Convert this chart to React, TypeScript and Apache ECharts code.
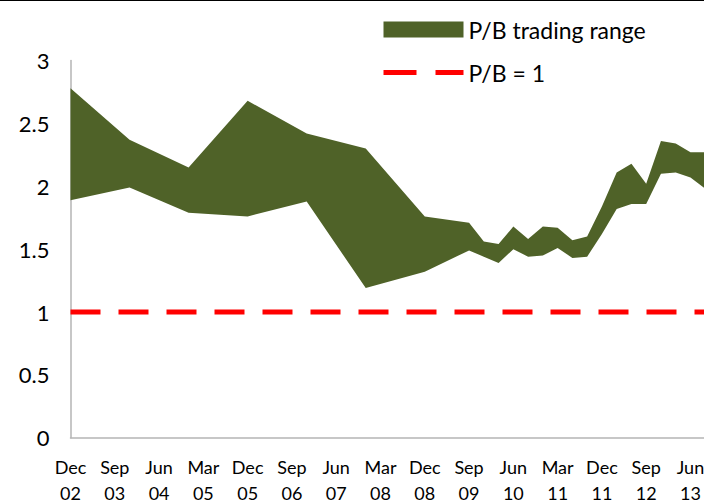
import React, { useEffect, useRef } from "react";
import * as echarts from "echarts";

// Observation dates (quarter ends), band bounds of the P/B trading range
const dates = [
  "2002-12", "2003-12", "2004-12", "2005-12", "2006-12", "2007-12", "2008-12",
  "2009-09", "2009-12", "2010-03", "2010-06", "2010-09", "2010-12", "2011-03",
  "2011-06", "2011-09", "2011-12", "2012-03", "2012-06", "2012-09", "2012-12",
  "2013-03", "2013-06", "2013-09",
];
const upperPB = [
  2.78, 2.37, 2.15, 2.68, 2.42, 2.30, 1.76,
  1.71, 1.56, 1.54, 1.68, 1.58, 1.68, 1.67,
  1.57, 1.60, 1.84, 2.11, 2.18, 2.02, 2.36,
  2.34, 2.27, 2.27,
];
const lowerPB = [
  1.89, 1.99, 1.79, 1.76, 1.88, 1.19, 1.32,
  1.49, 1.44, 1.39, 1.50, 1.44, 1.45, 1.51,
  1.43, 1.44, 1.62, 1.82, 1.86, 1.86, 2.10,
  2.11, 2.07, 1.98,
];
const xTickLabels = [
  "Dec\n02", "Sep\n03", "Jun\n04", "Mar\n05", "Dec\n05", "Sep\n06", "Jun\n07",
  "Mar\n08", "Dec\n08", "Sep\n09", "Jun\n10", "Mar\n11", "Dec\n11", "Sep\n12",
  "Jun\n13",
];
const referenceLevel = 1;

const FONT = "Lato";
const GREEN = "#4F6228";

// quarter index relative to Dec 2002
function quarterIndex(d: string): number {
  const [y, m] = d.split("-").map(Number);
  return (y - 2002) * 4 + (m - 12) / 3;
}

export default function App() {
  const ref = useRef<HTMLDivElement>(null);

  useEffect(() => {
    if (!ref.current) return;
    const chart = echarts.init(ref.current, undefined, { renderer: "svg" });
    const xs = dates.map(quarterIndex);
    const xMin = 0;
    const xMax = 44;
    const bandData = xs.map((x, i) => [x, upperPB[i], lowerPB[i]]);

    chart.setOption({
      animation: false,
      grid: { left: 70.5, right: -16, top: 60.6, bottom: 66.3, outerBoundsMode: "none", containLabel: false },
      graphic: [
        { type: "rect", shape: { x: 0, y: 0, width: 704, height: 1 }, style: { fill: "#000" } },
      ],
      legend: {
        orient: "vertical",
        left: 381,
        top: 18,
        padding: 0,
        itemWidth: 80,
        itemHeight: 16,
        itemGap: 20,
        textStyle: { fontFamily: FONT, fontSize: 23, color: "#000", lineHeight: 16 },
        data: [
          { name: "P/B trading range", icon: "rect" },
          {
            name: "P/B = 1",
            itemStyle: { color: "rgba(0,0,0,0)", borderWidth: 0, opacity: 0 },
            lineStyle: { type: [33, 19], width: 5, color: "#ff0000" },
          },
        ],
      },
      xAxis: {
        type: "value",
        min: xMin,
        max: xMax,
        interval: 3,
        axisLine: { show: true, lineStyle: { color: "#b5b5b5", width: 1.5 } },
        axisTick: { show: false },
        splitLine: { show: false },
        axisLabel: {
          fontFamily: FONT,
          fontSize: 18,
          lineHeight: 26,
          margin: 16,
          color: "#000",
          showMaxLabel: false,
          formatter: (v: number) => {
            const k = v / 3;
            return Number.isInteger(k) && xTickLabels[k] ? xTickLabels[k] : "";
          },
        },
      },
      yAxis: {
        type: "value",
        min: 0,
        max: 3,
        interval: 0.5,
        axisLine: { show: true, lineStyle: { color: "#b5b5b5", width: 1.5 } },
        axisTick: { show: false },
        splitLine: { show: false },
        axisLabel: { fontFamily: FONT, fontSize: 22, margin: 21, color: "#000" },
      },
      series: [
        {
          name: "P/B trading range",
          type: "custom",
          data: bandData,
          encode: { x: 0, y: [1, 2] },
          itemStyle: { color: GREEN },
          renderItem: (params: any, api: any) => {
            if (params.dataIndex !== 0) return null;
            const top = bandData.map((d) => api.coord([d[0], d[1]]));
            const bottom = bandData.map((d) => api.coord([d[0], d[2]])).reverse();
            return {
              type: "polygon",
              shape: { points: top.concat(bottom) },
              style: { fill: GREEN },
            };
          },
          z: 2,
        },
        {
          name: "P/B = 1",
          type: "line",
          data: [
            [xMin, referenceLevel],
            [xMax, referenceLevel],
          ],
          symbol: "none",
          color: "#ff0000",
          itemStyle: { color: "#ff0000" },
          lineStyle: { color: "#ff0000", width: 5, type: [30, 18] },
          z: 3,
        },
      ],
    });
    return () => chart.dispose();
  }, []);

  return (
    <div
      ref={ref}
      style={{ position: "fixed", left: 0, top: 0, width: 704, height: 504, background: "#fff" }}
    />
  );
}
